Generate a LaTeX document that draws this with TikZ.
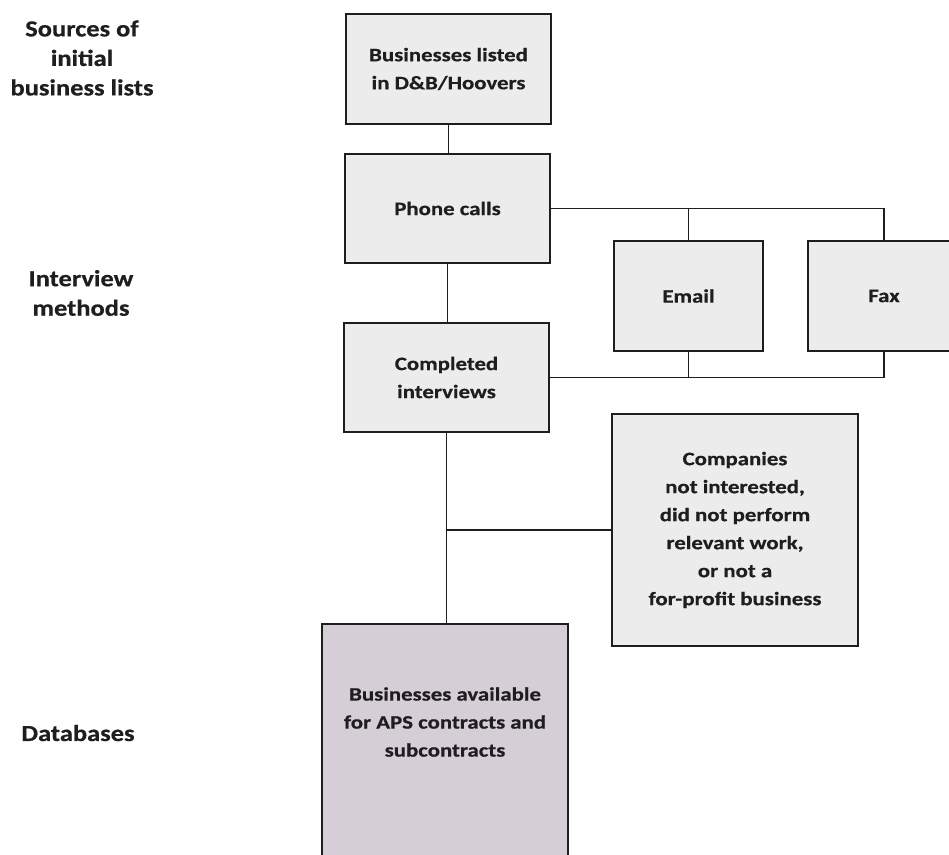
\documentclass[tikz,border=0pt]{standalone}
\usepackage{fontspec}
\setmainfont{Carlito}
\newfontfamily\boxfont[FakeStretch=1.2, FakeBold=0.6]{Carlito}
\newfontfamily\rowfont[FakeStretch=1.15, FakeBold=0.6]{Carlito}
\usepackage{xcolor}
\definecolor{boxgray}{HTML}{ECECEC}
\definecolor{dbpurple}{HTML}{D6CED7}
\definecolor{inkdark}{HTML}{1E1E1E}

\begin{document}
\begin{tikzpicture}[
    x=1pt, y=-1pt,
    every node/.style={font=\boxfont\fontsize{19}{28}\selectfont\bfseries, text=inkdark, align=center},
    rowlabel/.style={font=\rowfont\fontsize{23}{29.5}\selectfont\bfseries},
    box/.style={rectangle, draw=inkdark, line width=1.4pt, fill=boxgray, inner sep=0pt},
    dbbox/.style={rectangle, draw=inkdark, line width=1.4pt, fill=dbpurple, inner sep=0pt},
    conn/.style={draw=inkdark, line width=1.3pt}
]
    \useasboundingbox (0,0) rectangle (949,854);
    \begin{scope}
    \clip (0,0) rectangle (949,854);

    % Row labels (left)
    \node[rowlabel] (lsrc) at (82,58) {Sources of\\initial\\business lists};
    \node[rowlabel] (lint) at (81,293) {Interview\\methods};
    \node[rowlabel] (ldb) at (78,733) {Databases};

    % Boxes
    \node[box, minimum width=205pt, minimum height=110pt] (dnb) at (448.5,69) {Businesses listed\\in D\&B/Hoovers};
    \node[box, minimum width=205pt, minimum height=109pt] (phone) at (447.5,208.5) {Phone calls};
    \node[box, minimum width=149pt, minimum height=110pt] (email) at (688.5,296) {Email};
    \node[box, minimum width=152pt, minimum height=110pt] (fax) at (884,296) {Fax};
    \node[box, minimum width=205pt, minimum height=109pt] (comp) at (446.5,377.5) {Completed\\interviews};
    \node[box, minimum width=246pt, minimum height=232pt] (drop) at (735,530) {Companies\\not interested,\\did not perform\\relevant work,\\or not a\\for-profit business};
    \node[dbbox, minimum width=246pt, minimum height=256pt] (db) at (445,752) {};
    \node (dbtext) at (445,722) {Businesses available\\for APS contracts and\\subcontracts};

    % Connectors
    \draw[conn] (dnb.south) -- (dnb.south |- phone.north);
    \draw[conn] (phone.east) -- (phone.east -| fax.north) -- (fax.north);
    \draw[conn] (phone.east -| email.north) -- (email.north);
    \draw[conn] (phone.south) -- (phone.south |- comp.north);
    \draw[conn] (comp.east) -- (comp.east -| fax.south) -- (fax.south);
    \draw[conn] (email.south) -- (email.south |- comp.east);
    \draw[conn] (comp.south) -- (comp.south |- db.north);
    \draw[conn] (comp.south |- drop.west) -- (drop.west);
    \end{scope}
\end{tikzpicture}
\end{document}
